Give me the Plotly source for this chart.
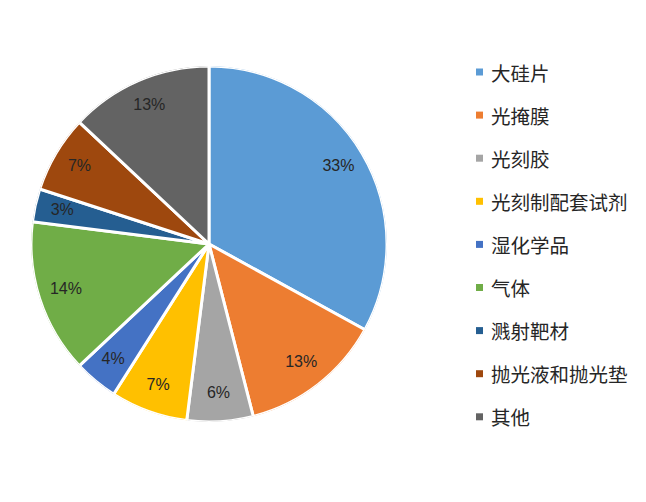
import plotly.graph_objects as go

labels = ["大硅片", "光掩膜", "光刻胶", "光刻制配套试剂", "湿化学品",
          "气体", "溅射靶材", "抛光液和抛光垫", "其他"]
values = [33, 13, 6, 7, 4, 14, 3, 7, 13]
colors = ["#5B9BD5", "#ED7D31", "#A5A5A5", "#FFC000", "#4472C4",
          "#70AD47", "#255E91", "#9E480E", "#636363"]

W, H = 646, 502
# page body adds an 8px offset, so everything is placed 8px up/left
cx, cy, R = 201, 236, 178
dom = dict(x=[(cx - R) / W, (cx + R) / W], y=[1 - (cy + R) / H, 1 - (cy - R) / H])

# slice angles from the values
total = sum(values)
mid_theta, widths = [], []
acc = 0
for v in values:
    mid_theta.append((acc + v / 2) / total * 360)
    widths.append(v / total * 360)
    acc += v

fig = go.Figure()

# pie drawn as full-radius polar wedges so the labels can sit on top
fig.add_trace(go.Barpolar(
    r=[1] * len(values),
    theta=mid_theta,
    width=widths,
    marker=dict(color=colors, line=dict(color="#FFFFFF", width=3)),
    hovertext=[f"{l}: {v}%" for l, v in zip(labels, values)],
    hoverinfo="text",
    showlegend=False,
))

fig.add_trace(go.Scatterpolar(
    r=[0.845] * len(values),
    theta=mid_theta,
    mode="text",
    text=[f"{v}%" for v in values],
    textfont=dict(family="Liberation Sans, Arial", size=16, color="#262626"),
    hoverinfo="skip",
    showlegend=False,
))

fig.update_layout(
    polar=dict(
        domain=dom,
        bgcolor="rgba(0,0,0,0)",
        hole=0,
        radialaxis=dict(range=[0, 1], visible=False),
        angularaxis=dict(direction="clockwise", rotation=90, visible=False),
    ),
)

# legend drawn by hand so the row spacing matches the original
y0, step = 64, 43.1
for i, (lab, col) in enumerate(zip(labels, colors)):
    yc = y0 + i * step
    fig.add_shape(type="rect", xref="paper", yref="paper",
                  x0=468 / W, x1=475 / W,
                  y0=1 - (yc + 3.5) / H, y1=1 - (yc - 3.5) / H,
                  fillcolor=col, line=dict(width=0))
    fig.add_annotation(xref="paper", yref="paper", x=481 / W, y=1 - yc / H,
                       xanchor="left", yanchor="middle", showarrow=False,
                       text=lab,
                       font=dict(family="Noto Sans CJK SC", size=19.5, color="#262626"))

fig.update_layout(
    width=W, height=H,
    margin=dict(l=0, r=0, t=0, b=0),
    paper_bgcolor="#FFFFFF",
    plot_bgcolor="#FFFFFF",
)

fig.write_html("out.html")
